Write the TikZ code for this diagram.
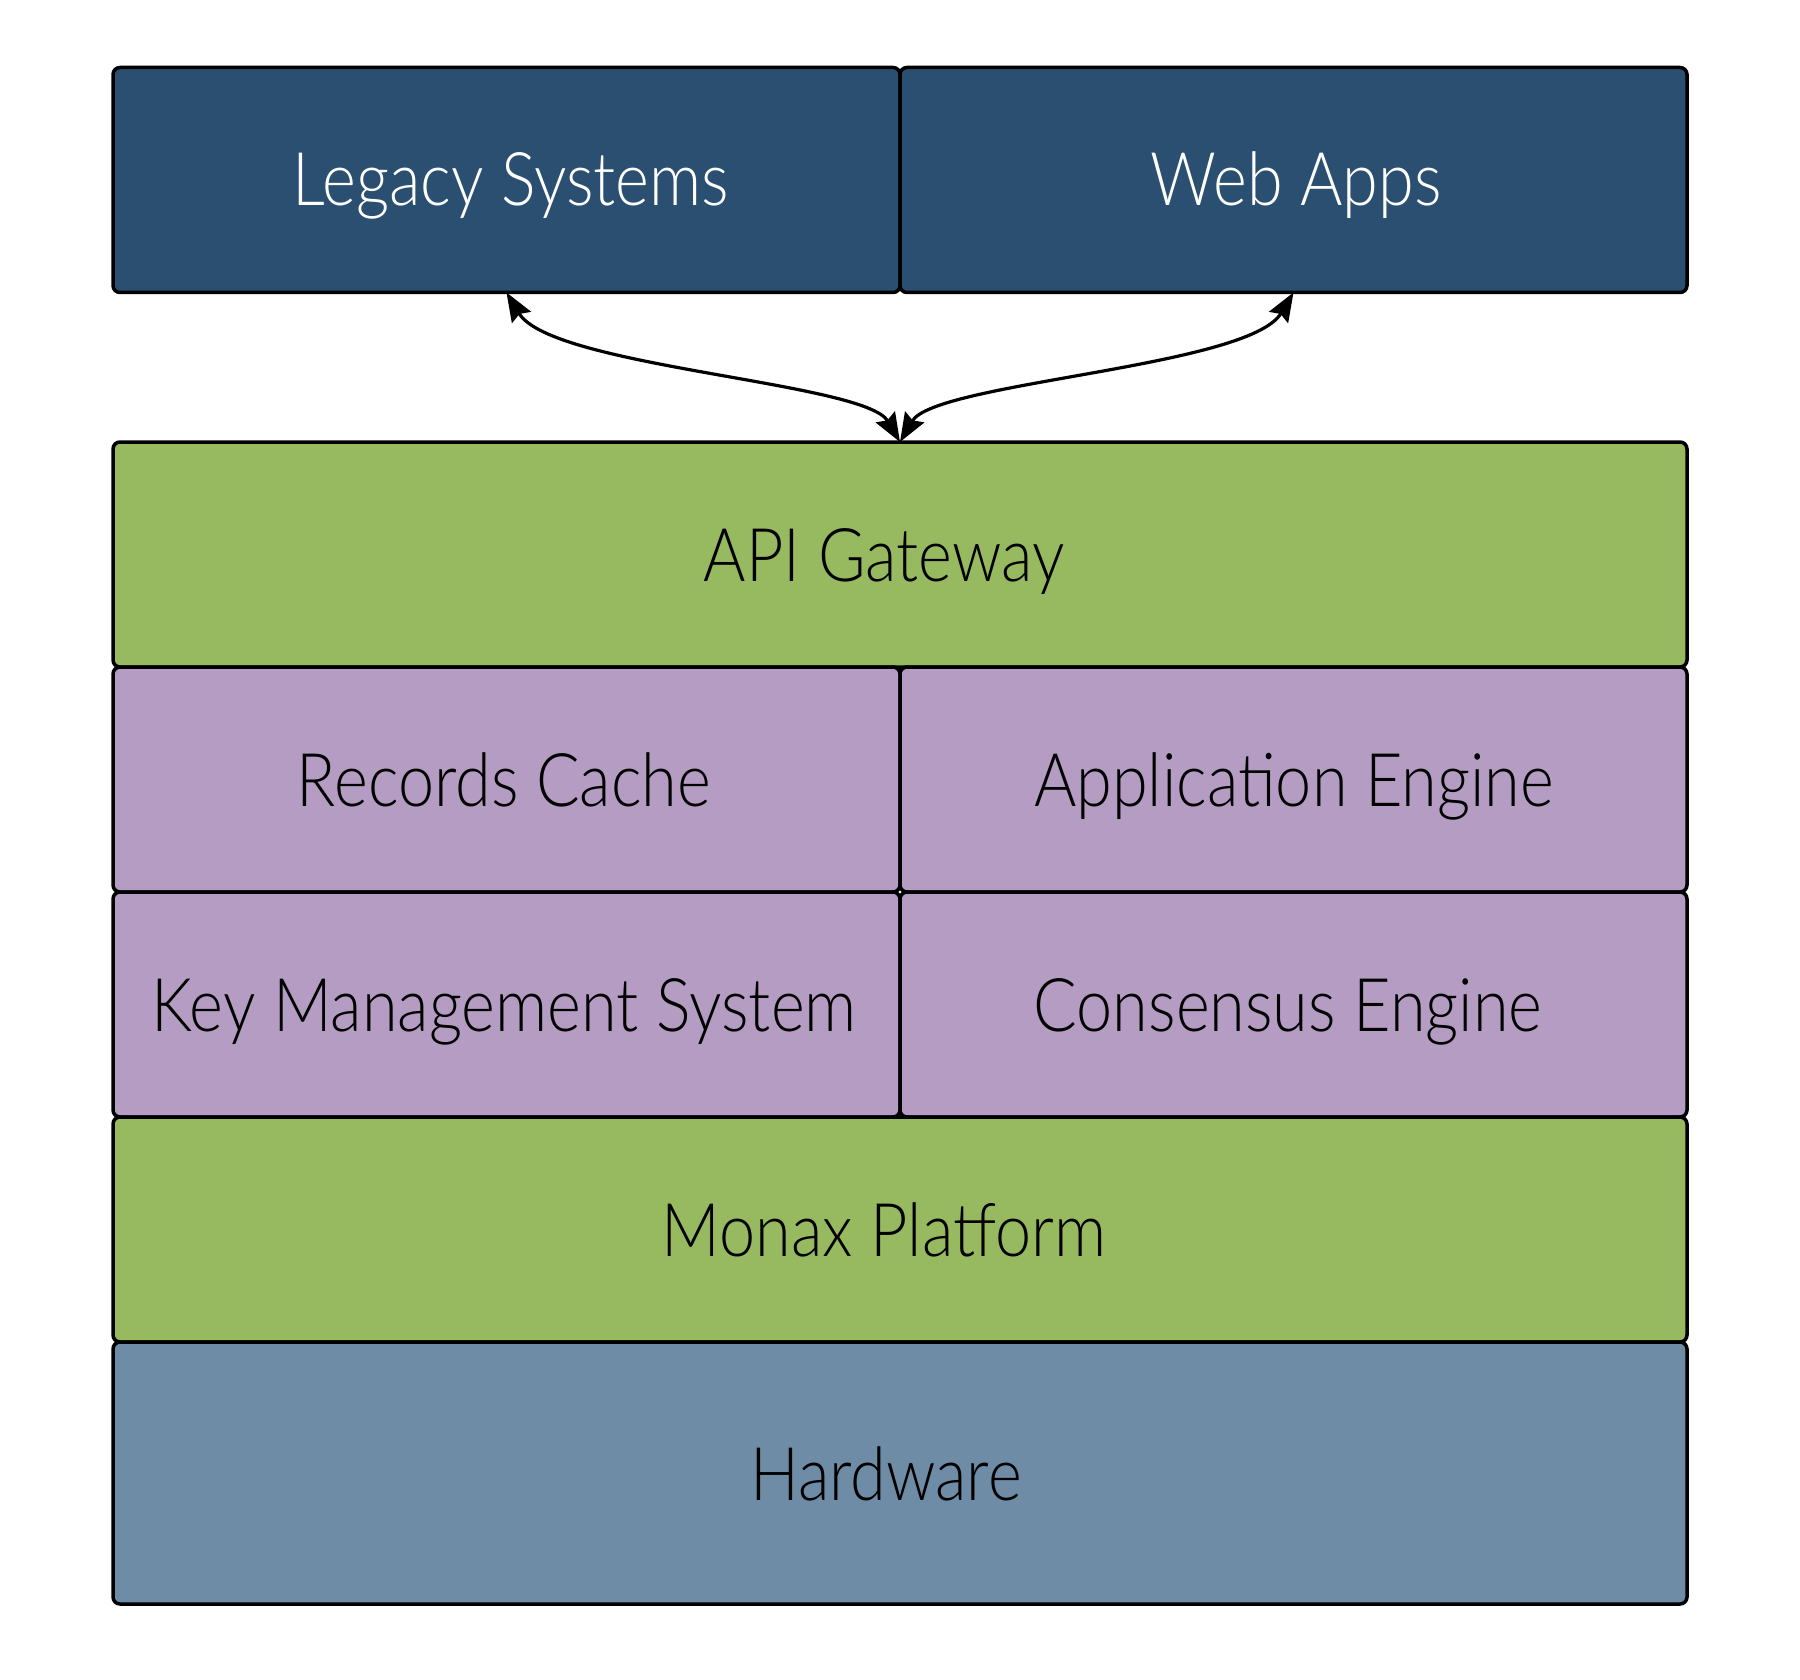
\documentclass[tikz,border=0pt]{standalone}
\usepackage{fontspec}
\setmainfont{Lato}[UprightFont={* Light}, FakeStretch=0.875]
\usetikzlibrary{arrows.meta,calc}
\definecolor{topblue}{HTML}{2B4F70}
\definecolor{layergreen}{HTML}{97B960}
\definecolor{layerpurple}{HTML}{B59CC3}
\definecolor{hwblue}{HTML}{6F8CA7}
\begin{document}
\begin{tikzpicture}[x=1pt,y=-1pt,
  box/.style={draw=black, line width=3.5pt, rounded corners=7pt, inner sep=0pt, outer sep=0pt, rectangle},
  half/.style={box, minimum width=787pt, minimum height=225pt},
  full/.style={box, minimum width=1574pt, minimum height=225pt},
  lbl/.style={anchor=base, inner sep=0pt, font=\fontsize{74}{88}\selectfont},
  conn/.style={line width=3.2pt, {Stealth[length=29pt,width=22pt,inset=4pt]}-{Stealth[length=29pt,width=22pt,inset=4pt]}}
]
\useasboundingbox[fill=white] (0,0) rectangle (1800,1680);

% top row
\node[half, fill=topblue] (legacy) at (506.5,180) {};
\node[half, fill=topblue] (web) at (1293.5,180) {};
% layers
\node[full, fill=layergreen] (api) at (900,554.5) {};
\node[half, fill=layerpurple] (cache) at (506.5,779.5) {};
\node[half, fill=layerpurple] (app) at (1293.5,779.5) {};
\node[half, fill=layerpurple] (kms) at (506.5,1004.5) {};
\node[half, fill=layerpurple] (cons) at (1293.5,1004.5) {};
\node[full, fill=layergreen] (monax) at (900,1229.5) {};
\node[box, fill=hwblue, minimum width=1574pt, minimum height=262pt] (hw) at (900,1473) {};

% labels
\node[lbl, text=white] (tlegacy) at (511,206) {Legacy Systems};
\node[lbl, text=white] (tweb) at (1296,206) {Web Apps};
\node[lbl] (tapi) at (884,581) {API Gateway};
\node[lbl] (tcache) at (504,806) {Records Cache};
\node[lbl] (tapp) at (1294,806) {Application Engine};
\node[lbl] (tkms) at (504,1031) {Key Management System};
\node[lbl] (tcons) at (1288,1031) {Consensus Engine};
\node[lbl] (tmonax) at (884,1256) {Monax Platform};
\node[lbl] (thw) at (886,1500) {Hardware};

% connectors
\draw[conn] (legacy.south) .. controls ($(legacy.south)+(45,75)$) and ($(api.north)+(-35,-60)$) .. (api.north);
\draw[conn] (web.south) .. controls ($(web.south)+(-45,75)$) and ($(api.north)+(35,-60)$) .. (api.north);
\end{tikzpicture}
\end{document}
